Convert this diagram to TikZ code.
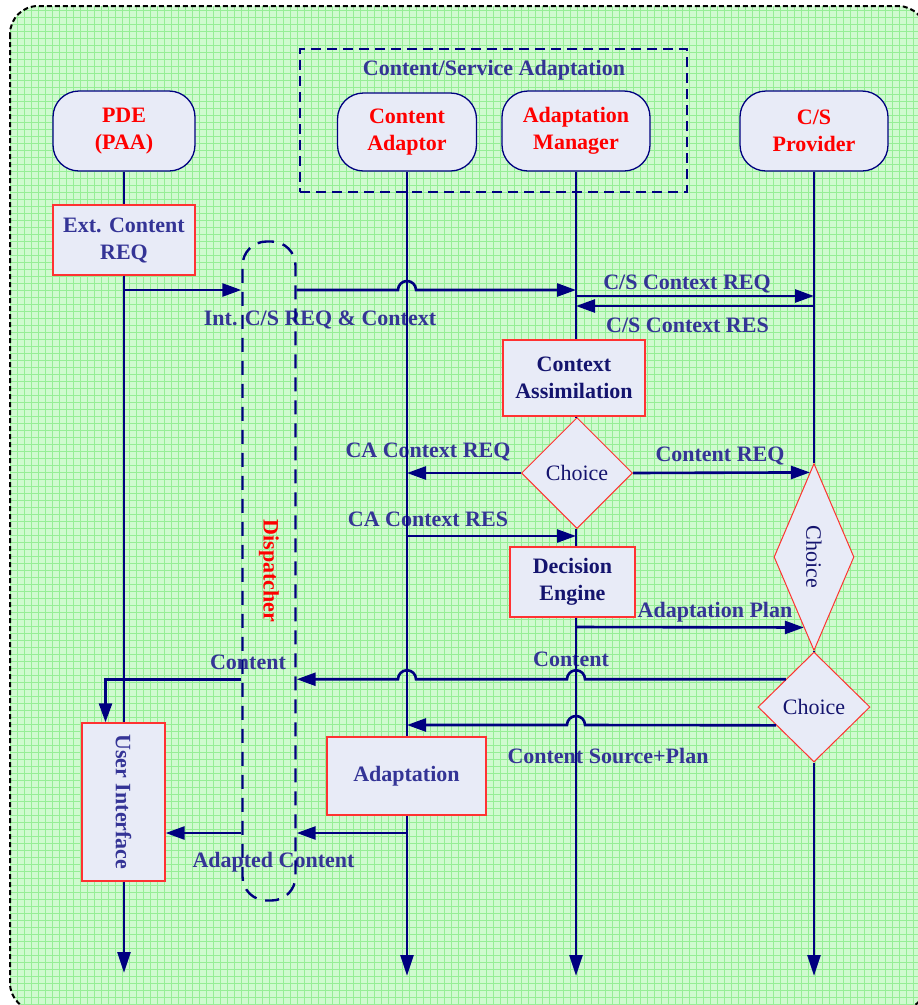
\documentclass[tikz,border=0pt]{standalone}
\usepackage{fontspec}
\setmainfont{Liberation Serif}
\usetikzlibrary{shapes.geometric,arrows.meta,calc}

\definecolor{navyline}{RGB}{0,0,128}
\definecolor{navytext}{RGB}{52,52,150}
\definecolor{navydark}{RGB}{20,20,110}
\definecolor{boxfill}{RGB}{232,235,247}
\definecolor{boxred}{RGB}{255,50,50}
\definecolor{bggreen}{RGB}{208,250,208}
\definecolor{gridgreen}{RGB}{150,238,150}

\newcommand{\lblfont}{\bfseries\fontsize{22}{27}\selectfont}

\tikzset{
  actor/.style={draw=navyline, line width=1.3pt, fill=boxfill, rounded corners=26pt,
    text=red, font=\lblfont, align=center, inner sep=0pt,
    minimum width=142pt, minimum height=80pt},
  stepbox/.style={draw=boxred, line width=1.3pt, fill=boxfill, text=navytext,
    font=\lblfont, align=center, inner sep=0pt},
  choice/.style={diamond, draw=boxred, line width=1pt, fill=boxfill, text=navydark,
    font=\fontsize{22}{27}\selectfont, inner sep=0pt},
  lbl/.style={text=navytext, font=\lblfont, inner sep=0pt, anchor=base},
  life/.style={draw=navyline, line width=2.6pt},
  tip/.style={-{Triangle[length=21pt,width=13pt]}},
  msg/.style={draw=navyline, line width=2.6pt, -{Triangle[length=19pt,width=13pt]}},
  msgback/.style={draw=navyline, line width=2.6pt, {Triangle[length=19pt,width=13pt]}-},
}

\begin{document}
\begin{tikzpicture}[x=1pt,y=-1pt]
\useasboundingbox (0,0) rectangle (918,1005);

% squared-paper panel
\begin{scope}
  \clip[rounded corners=28pt] (10,6) rectangle (926,1011);
  \fill[bggreen] (0,0) rectangle (930,1012);
  \foreach \k in {0,...,133} \draw[gridgreen, line width=1pt] (7*\k+3,0) -- (7*\k+3,1012);
  \foreach \k in {0,...,145} \draw[gridgreen, line width=1pt] (0,7*\k+3) -- (930,7*\k+3);
\end{scope}
\draw[black, line width=2pt, dash pattern=on 5pt off 3pt, rounded corners=28pt]
  (10,6) rectangle (926,1011);

% Content/Service Adaptation group
\node[draw=navyline, line width=2.4pt, dash pattern=on 10pt off 6pt,
  minimum width=387pt, minimum height=143pt, inner sep=0pt] (grp) at (493.5,120.5) {};
\node[lbl] (grptitle) at (494,75) {Content/Service Adaptation};

% message labels
\node[lbl] (l1) at (320,325) {Int. C/S REQ \& Context};
\node[lbl] (l2) at (687,289) {C/S Context REQ};
\node[lbl] (l3) at (687.5,332) {C/S Context RES};
\node[lbl] (l4) at (428,457) {CA Context REQ};
\node[lbl] (l5) at (720,461) {Content REQ};
\node[lbl] (l6) at (428,526) {CA Context RES};
\node[lbl] (l7) at (715,617) {Adaptation Plan};
\node[lbl] (l8) at (571,666) {Content};
\node[lbl] (l9) at (248,669) {Content};
\node[lbl] (l10) at (608,763) {Content Source+Plan};
\node[lbl] (l11) at (273.5,867) {Adapted Content};

% participants
\node[actor] (pde) at (124,131) {PDE\\(PAA)};
\node[actor, minimum width=139pt, minimum height=78pt] (ca) at (407,132) {Content\\Adaptor};
\node[actor, minimum width=148pt] (am) at (576,131) {Adaptation\\Manager};
\node[actor, minimum width=148pt] (csp) at (814,131) {C/S\\Provider};

% activity boxes
\node[stepbox, minimum width=142pt, minimum height=70pt] (ext) at (124,240) {Ext. Content\\REQ};
\node[stepbox, text=navydark, minimum width=142pt, minimum height=76pt] (cas) at (574,378) {Context\\Assimilation};
\node[stepbox, text=navydark, minimum width=125pt, minimum height=70pt] (de) at (572.5,582) {Decision\\Engine};
\node[stepbox, minimum width=159pt, minimum height=78pt] (adapt) at (406.5,776) {Adaptation};
\node[stepbox, minimum width=83pt, minimum height=158pt] (ui) at (123.5,802) {\rotatebox{-90}{User Interface}};

% decisions
\node[choice, minimum width=111pt, minimum height=111pt] (ch1) at (577,473) {Choice};
\node[choice, minimum width=80pt, minimum height=187pt] (ch2) at (814,557) {\rotatebox{-90}{Choice}};
\node[choice, minimum width=112pt, minimum height=110pt] (ch3) at (814,707) {Choice};

% dispatcher
\node[draw=navyline, line width=2.4pt, dash pattern=on 14pt off 9pt, rounded corners=24pt,
  minimum width=53pt, minimum height=659pt, inner sep=0pt, text=red, font=\lblfont]
  (disp) at (269,571) {\rotatebox{-90}{Dispatcher}};

% lifeline ends
\coordinate (pdeEnd) at (124,973);
\coordinate (caEnd) at (407,976);
\coordinate (amEnd) at (576,976);
\coordinate (cspEnd) at (814,976);

% lifelines
\draw[life] (pde.south) -- (ext.north);
\draw[life] (ext.south) -- (ext.south |- ui.north);
\draw[life, tip] (ext.south |- ui.south) -- (pdeEnd);

\draw[life] (ca.south) -- (ca.south |- adapt.north);
\draw[life, tip] (ca.south |- adapt.south) -- (caEnd);

\draw[life] (am.south) -- (am.south |- cas.north);
\draw[life] (am.south |- cas.south) -- (am.south |- ch1.north);
\draw[life] (am.south |- ch1.south) -- (am.south |- de.north);
\draw[life, tip] (am.south |- de.south) -- (amEnd);

\draw[life] (csp.south) -- (ch2.north);
\draw[life] (ch2.south) -- (ch3.north);
\draw[life, tip] (ch3.south) -- (cspEnd);

% messages
\draw[msg] (ext.south |- 0,290) -- (disp.west |- 0,290);
\draw[msg] (disp.east |- 0,290) -- ($(ca.south |- 0,290)+(-9,0)$)
  arc[start angle=180, end angle=0, radius=9pt] -- (am.south |- 0,290);
\draw[msg] (am.south |- 0,296) -- (csp.south |- 0,296);
\draw[msgback] (am.south |- 0,306) -- (csp.south |- 0,306);
\draw[msgback] (ca.south |- ch1.west) -- (ch1.west);
\draw[msg] (ch1.east) -- ($(ch2.north)!0.1!(ch2.west)$);
\draw[msg] (ca.south |- 0,536) -- (am.south |- 0,536);
\draw[msg] (am.south |- 0,627) -- ($(ch2.west)!0.75!(ch2.south)$);

\draw[msgback] (disp.east |- ch3.north west) -- ($(ca.south |- ch3.north west)+(-9,0)$)
  arc[start angle=180, end angle=0, radius=9pt] -- ($(am.south |- ch3.north west)+(-9,0)$)
  arc[start angle=180, end angle=0, radius=9pt] -- (ch3.north west);
\draw[msg] (disp.west |- ch3.north west) -| ($(ui.north)+(-18,0)$);
\draw[msgback] (ca.south |- 0,725) -- ($(am.south |- 0,725)+(-9,0)$)
  arc[start angle=180, end angle=0, radius=9pt] -- ($(ch3.west)!0.33!(ch3.south)$);

\draw[msg] (ca.south |- 0,833) -- (disp.east |- 0,833);
\draw[msg] (disp.west |- 0,833) -- (ui.east |- 0,833);
\end{tikzpicture}
\end{document}
